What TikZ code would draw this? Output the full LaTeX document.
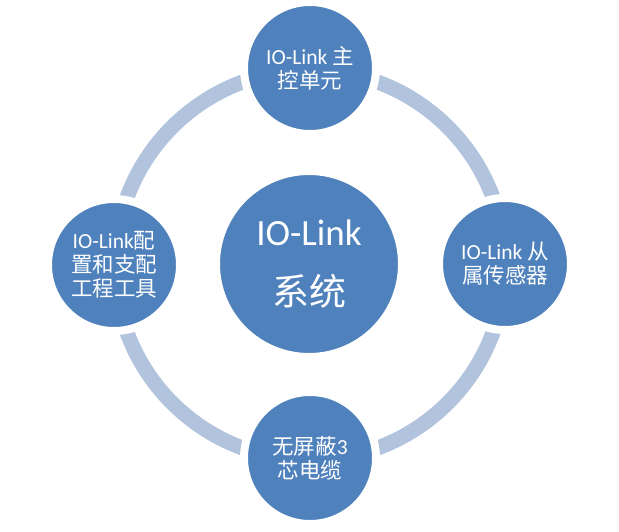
\documentclass[tikz,border=0pt]{standalone}
\usepackage{fontspec}
\setmainfont{Carlito}
\newfontfamily\cjk{Noto Sans CJK SC}
\usepackage{xcolor}
\usetikzlibrary{positioning}
\definecolor{nodeblue}{RGB}{79, 129, 189}
\definecolor{ringblue}{RGB}{178, 195, 222}
\newcommand{\zh}[1]{{\cjk #1}}

\begin{document}
\begin{tikzpicture}[x=1pt, y=-1pt,
    part/.style={circle, fill=nodeblue, draw=white, line width=8pt, minimum size=132pt,
        inner sep=0pt, text=white, align=center, font=\fontsize{21.5}{24}\selectfont},
    core/.style={part, minimum size=186pt, font=\fontsize{37}{60}\selectfont},
    ring/.style={ringblue, line width=15pt}]
    \useasboundingbox (0,0) rectangle (619,531);
    \coordinate (mid) at (310,265);
    \draw[ring] (mid) circle (195pt);
    \node[core] (sys) at (309,264) {IO-Link\\ \zh{系统}};
    \node[part] (master) at (310,68) {IO-Link \zh{主}\\ \zh{控单元}};
    \node[part] (device) at (505,264) {IO-Link \zh{从}\\ \zh{属传感器}};
    \node[part] (cable) at (310,458) {\zh{无屏蔽}3\\ \zh{芯电缆}};
    \node[part] (tool) at (114,265) {IO-Link\zh{配}\\ \zh{置和支配}\\ \zh{工程工具}};
\end{tikzpicture}
\end{document}
